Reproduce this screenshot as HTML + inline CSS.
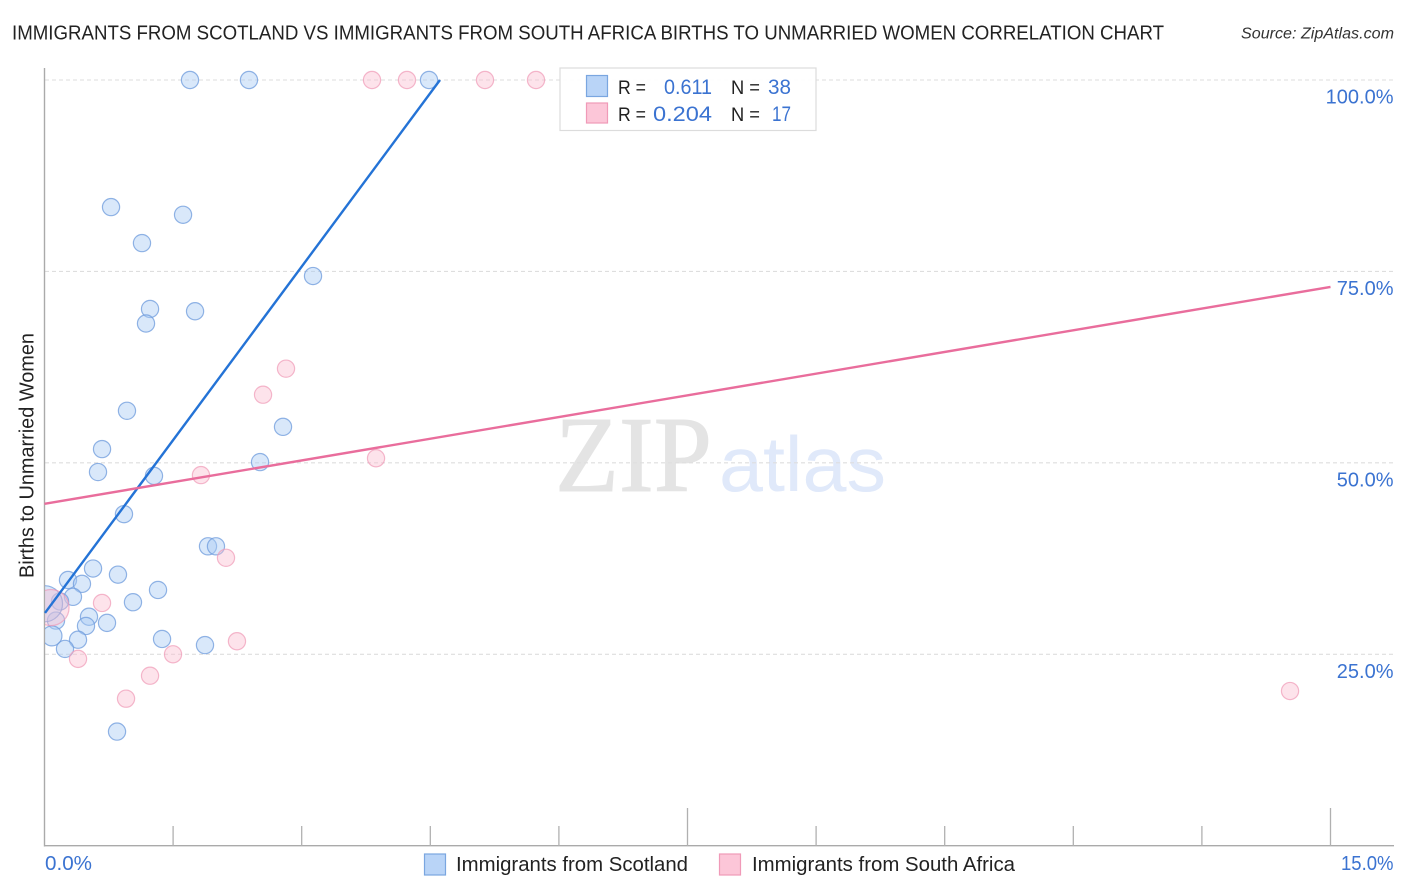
<!DOCTYPE html>
<html>
<head>
<meta charset="utf-8">
<title>Immigrants from Scotland vs Immigrants from South Africa Births to Unmarried Women Correlation Chart</title>
<style>
html,body{margin:0;padding:0;background:#fff;}
svg{display:block;font-family:"Liberation Sans",sans-serif;}
</style>
</head>
<body>
<svg id="chart" xmlns="http://www.w3.org/2000/svg" width="1406" height="892" viewBox="0 0 1406 892">
  <defs>
    <clipPath id="plot-clip"><rect x="45" y="60" width="1349" height="786"></rect></clipPath>
  </defs>
  <rect x="0" y="0" width="1406" height="892" fill="#ffffff"></rect>

  <text x="12" y="39.5" font-size="20" fill="#222" textLength="1152" lengthAdjust="spacingAndGlyphs">IMMIGRANTS FROM SCOTLAND VS IMMIGRANTS FROM SOUTH AFRICA BIRTHS TO UNMARRIED WOMEN CORRELATION CHART</text>
  <text x="1241" y="38.5" font-size="15.5" font-style="italic" fill="#333" textLength="153" lengthAdjust="spacingAndGlyphs">Source: ZipAtlas.com</text>

  <g>
    <text x="555" y="491" font-family="'Liberation Serif',serif" font-size="108" fill="#e4e4e4" stroke="#e4e4e4" stroke-width="1" textLength="157" lengthAdjust="spacingAndGlyphs">ZIP</text>
    <text x="719" y="491" font-size="78" fill="#e0e9fa" textLength="167" lengthAdjust="spacingAndGlyphs">atlas</text>
  </g>

  <g id="grid"></g>
  <g id="axes"></g>
  <g id="marks" clip-path="url(#plot-clip)"></g>
  <g id="lines"></g>
  <g id="labels"></g>

  <text transform="translate(33.5,578) rotate(-90)" font-size="20" fill="#222" textLength="245" lengthAdjust="spacingAndGlyphs">Births to Unmarried Women</text>

  <g>
    <rect x="560" y="68" width="256" height="62.5" fill="#ffffff" fill-opacity="0.92" stroke="#dcdcdc" stroke-width="1.2"></rect>
    <rect x="586.5" y="75.5" width="21" height="21" fill="#b9d4f7" stroke="#7aa6e0" stroke-width="1.2"></rect>
    <rect x="586.5" y="103" width="21" height="20" fill="#fcc6d8" stroke="#f09ab8" stroke-width="1.2"></rect>
    <text x="618" y="94" font-size="19.5" fill="#222" textLength="28" lengthAdjust="spacingAndGlyphs">R =</text>
    <text x="664" y="94" font-size="21" fill="#3b73d1" textLength="48" lengthAdjust="spacingAndGlyphs">0.611</text>
    <text x="731" y="94" font-size="19.5" fill="#222" textLength="29" lengthAdjust="spacingAndGlyphs">N =</text>
    <text x="768" y="94" font-size="21" fill="#3b73d1" textLength="23" lengthAdjust="spacingAndGlyphs">38</text>
    <text x="618" y="121" font-size="19.5" fill="#222" textLength="28" lengthAdjust="spacingAndGlyphs">R =</text>
    <text x="653" y="121" font-size="21" fill="#3b73d1" textLength="59" lengthAdjust="spacingAndGlyphs">0.204</text>
    <text x="731" y="121" font-size="19.5" fill="#222" textLength="29" lengthAdjust="spacingAndGlyphs">N =</text>
    <text x="772" y="121" font-size="21" fill="#3b73d1" textLength="19" lengthAdjust="spacingAndGlyphs">17</text>
  </g>

  <g>
    <rect x="424.5" y="854" width="21" height="21" fill="#b9d4f7" stroke="#7aa6e0" stroke-width="1.2"></rect>
    <text x="456" y="871" font-size="20" fill="#222" textLength="232" lengthAdjust="spacingAndGlyphs">Immigrants from Scotland</text>
    <rect x="719.5" y="854" width="21" height="21" fill="#fcc6d8" stroke="#f09ab8" stroke-width="1.2"></rect>
    <text x="752" y="871" font-size="20" fill="#222" textLength="263" lengthAdjust="spacingAndGlyphs">Immigrants from South Africa</text>
  </g>
</svg>
<script>
// Chart data (percent values)
const yTickValues = [25, 50, 75, 100];
const yTickLabels = ["25.0%", "50.0%", "75.0%", "100.0%"];
const xTickValues = [0, 1.5, 3, 4.5, 6, 7.5, 9, 10.5, 12, 13.5, 15];
const xEndLabels = ["0.0%", "15.0%"];
const scotlandX = [1.697, 2.385, 4.485, 0.776, 1.616, 1.137, 3.132, 1.231, 1.184, 1.756, 0.962, 2.782, 0.671, 0.624, 2.514, 1.277, 0.927, 1.907, 2.0, 0.566, 0.857, 0.274, 0.437, 1.324, 0.332, 0.181, 1.032, 0.519, 0.484, 0.729, 0.134, 1.371, 0.391, 1.872, 0.239, 0.846, 0.087, 0.0];
const scotlandY = [100, 100, 100, 83.4, 82.4, 78.7, 74.4, 70.1, 68.2, 69.8, 56.8, 54.7, 51.8, 48.8, 50.1, 48.3, 43.3, 39.1, 39.1, 36.2, 35.4, 34.7, 34.2, 33.4, 32.5, 31.9, 31.8, 29.9, 28.7, 29.1, 29.4, 27.0, 26.9, 26.2, 25.7, 14.9, 27.4, 31.6];
const scotlandWeight = [1, 1, 1, 1, 1, 1, 1, 1, 1, 1, 1, 1, 1, 1, 1, 1, 1, 1, 1, 1, 1, 1, 1, 1, 1, 1, 1, 1, 1, 1, 1, 1, 1, 1, 1, 1, 1.35, 4.4];
const southAfricaX = [3.82, 4.228, 5.138, 5.733, 2.817, 2.549, 3.867, 1.825, 2.117, 0.671, 2.245, 1.499, 0.391, 1.231, 0.951, 14.528, 0.076];
const southAfricaY = [100, 100, 100, 100, 62.3, 58.9, 50.6, 48.4, 37.6, 31.7, 26.7, 25.0, 24.4, 22.2, 19.2, 20.2, 31.1];
const southAfricaWeight = [1, 1, 1, 1, 1, 1, 1, 1, 1, 1, 1, 1, 1, 1, 1, 1, 4.4];
const scotlandTrendX = [0.006, 4.613];
const scotlandTrendY = [30.4, 100];
const southAfricaTrendX = [0, 15];
const southAfricaTrendY = [44.65, 72.98];

const NS = "http://www.w3.org/2000/svg";
const AX_LEFT = 44.5, AX_RIGHT_VAL = 1330.5, AX_BOTTOM = 845.7, AX_TOP100 = 80;
function sx(v) { return AX_LEFT + (v / 15) * (AX_RIGHT_VAL - AX_LEFT); }
function sy(v) { return AX_BOTTOM - (v / 100) * (AX_BOTTOM - AX_TOP100); }
function radius(w) { return 8.6 * Math.sqrt(w); }
function make(tag, attrs) {
  const el = document.createElementNS(NS, tag);
  for (const k in attrs) el.setAttribute(k, attrs[k]);
  return el;
}
const grid = document.getElementById("grid");
const axes = document.getElementById("axes");
const marks = document.getElementById("marks");
const lines = document.getElementById("lines");
const labels = document.getElementById("labels");

yTickValues.forEach(function (v, i) {
  const g = make("line", { x1: 45, x2: 1394, y1: sy(v), y2: sy(v), stroke: "#dedede", "stroke-width": 1.1, "stroke-dasharray": "4 3" });
  
  
  grid.appendChild(g);
  const t = make("text", { x: 1393.5, y: sy(v) + 23.5, "font-size": 20, fill: "#3b73d1", "text-anchor": "end" });
  
  
  t.textContent = yTickLabels[i];
  labels.appendChild(t);
});

const yAxisLine = make("line", { x1: AX_LEFT, x2: AX_LEFT, y1: 68, y2: 846.5, stroke: "#aaaaaa", "stroke-width": 1.4 });


axes.appendChild(yAxisLine);
const xAxisLine = make("line", { x1: 44, x2: 1394, y1: 845.7, y2: 845.7, stroke: "#aaaaaa", "stroke-width": 1.4 });


axes.appendChild(xAxisLine);

xTickValues.forEach(function (v, i) {
  if (i === 0) return;
  const tall = (i % 5 === 0);
  const tick = make("line", { x1: sx(v), x2: sx(v), y1: tall ? 808 : 826, y2: 846, stroke: "#b0b0b0", "stroke-width": 1.3 });
  
  
  axes.appendChild(tick);
});

const xLabelStart = make("text", { x: 45, y: 870, "font-size": 20, fill: "#3b73d1", textLength: 47, lengthAdjust: "spacingAndGlyphs" });


xLabelStart.textContent = xEndLabels[0];
labels.appendChild(xLabelStart);
const xLabelEnd = make("text", { x: 1341, y: 870, "font-size": 20, fill: "#3b73d1", textLength: 52.5, lengthAdjust: "spacingAndGlyphs" });


xLabelEnd.textContent = xEndLabels[1];
labels.appendChild(xLabelEnd);

scotlandX.forEach(function (v, i) {
  const c = make("circle", { cx: sx(v), cy: sy(scotlandY[i]), r: radius(scotlandWeight[i]), fill: "#a9caf3", "fill-opacity": 0.44, stroke: "#6d9bdc", "stroke-opacity": 0.75, "stroke-width": 1.2 });
  
  
  marks.appendChild(c);
});
southAfricaX.forEach(function (v, i) {
  const c = make("circle", { cx: sx(v), cy: sy(southAfricaY[i]), r: radius(southAfricaWeight[i]), fill: "#f9b9ce", "fill-opacity": 0.4, stroke: "#ef9ab7", "stroke-opacity": 0.7, "stroke-width": 1.2 });
  
  
  marks.appendChild(c);
});

const trendBlue = make("line", { x1: sx(scotlandTrendX[0]), y1: sy(scotlandTrendY[0]), x2: sx(scotlandTrendX[1]), y2: sy(scotlandTrendY[1]), stroke: "#2473d6", "stroke-width": 2.4 });


lines.appendChild(trendBlue);
const trendPink = make("line", { x1: sx(southAfricaTrendX[0]), y1: sy(southAfricaTrendY[0]), x2: sx(southAfricaTrendX[1]), y2: sy(southAfricaTrendY[1]), stroke: "#e96d9c", "stroke-width": 2.4 });


lines.appendChild(trendPink);
</script>
</body>
</html>
